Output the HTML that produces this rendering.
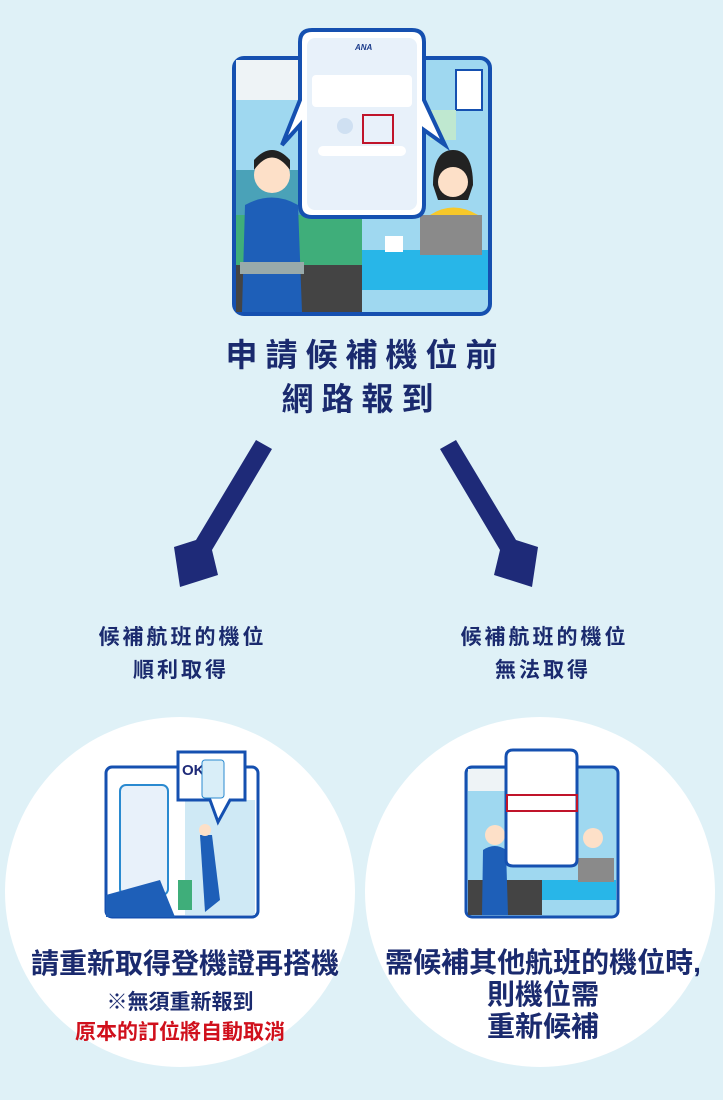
<!DOCTYPE html>
<html><head><meta charset="utf-8"><style>
html,body{margin:0;padding:0}
body{width:723px;height:1100px;background:#dff1f7;position:relative;overflow:hidden;font-family:"Liberation Sans","Noto Sans CJK TC",sans-serif;color:#1a2a6e;font-weight:bold}
.t{position:absolute;text-align:center;white-space:nowrap}
.circ{position:absolute;background:#fff;border-radius:50%}
</style></head><body>

<svg style="position:absolute;left:0;top:0" width="723" height="330">
  <rect x="234" y="58" width="256" height="256" rx="10" fill="#9fd8f0" stroke="#1550b0" stroke-width="4"/>
  <rect x="236" y="60" width="126" height="40" fill="#eef3f6"/>
  <rect x="236" y="170" width="126" height="70" fill="#4aa2b8"/>
  <rect x="236" y="215" width="126" height="50" fill="#3fae7a"/>
  <rect x="236" y="265" width="126" height="47" fill="#444"/>
  <rect x="362" y="250" width="126" height="40" fill="#28b6e8"/>
  <rect x="456" y="70" width="26" height="40" fill="#fff" stroke="#1550b0" stroke-width="2"/>
  <rect x="430" y="110" width="26" height="30" fill="#bfe8d0"/>
  <circle cx="272" cy="175" r="18" fill="#fde0c8"/>
  <path d="M254 170 Q272 145 290 170 L290 160 Q272 140 254 160Z" fill="#222"/>
  <path d="M245 205 Q272 190 298 205 L302 312 L242 312Z" fill="#1e5fb8"/>
  <rect x="240" y="262" width="64" height="12" fill="#9aa"/>
  <path d="M433 185 Q433 150 453 150 Q473 150 473 185 L468 200 L438 200Z" fill="#222"/>
  <circle cx="453" cy="182" r="15" fill="#fde0c8"/>
  <path d="M430 215 Q453 200 478 215 L480 255 L428 255Z" fill="#f7c82a"/>
  <rect x="420" y="215" width="62" height="40" fill="#8a8a8a"/>
  <rect x="385" y="236" width="18" height="16" fill="#fff"/>
  <path d="M312 30 H412 Q424 30 424 42 V100 L445 145 L424 130 V205 Q424 217 412 217 H312 Q300 217 300 205 V125 L282 145 L300 100 V42 Q300 30 312 30Z" fill="#fff" stroke="#1550b0" stroke-width="4"/>
  <rect x="307" y="38" width="110" height="172" rx="8" fill="#e8f1fa"/>
  <rect x="312" y="75" width="100" height="32" rx="4" fill="#fff"/>
  <rect x="363" y="115" width="30" height="28" fill="none" stroke="#c0142a" stroke-width="2"/>
  <circle cx="345" cy="126" r="8" fill="#cfe0f2"/>
  <rect x="318" y="146" width="88" height="10" rx="5" fill="#fff"/>
  <text x="355" y="50" font-size="8" fill="#1a3a8a" font-style="italic">ANA</text>
</svg>

<div class="t" style="left:0;width:723px;top:333px;font-size:32px;line-height:44px;letter-spacing:8px;text-indent:8px">申請候補機位前<br>網路報到</div>

<svg style="position:absolute;left:0;top:0" width="723" height="600">
  <polygon points="272,449 256,440 196,540 174,547 180,587 218,575 212,550" fill="#1e2a78"/>
  <polygon points="440,449 456,440 516,540 538,547 532,587 494,575 500,550" fill="#1e2a78"/>
</svg>

<div class="t" style="left:81px;width:200px;top:621px;font-size:21px;line-height:33px;letter-spacing:3px;text-indent:3px">候補航班的機位<br>順利取得</div>
<div class="t" style="left:443px;width:200px;top:621px;font-size:21px;line-height:33px;letter-spacing:3px;text-indent:3px">候補航班的機位<br>無法取得</div>

<div class="circ" style="left:5px;top:717px;width:350px;height:350px"></div>
<div class="circ" style="left:365px;top:717px;width:350px;height:350px"></div>

<svg style="position:absolute;left:0;top:0" width="723" height="930">
  <rect x="106" y="767" width="152" height="150" rx="6" fill="#fff" stroke="#1550b0" stroke-width="3"/>
  <rect x="185" y="800" width="70" height="115" fill="#cfe9f5"/>
  <rect x="120" y="785" width="48" height="110" rx="6" fill="#e8f1fa" stroke="#2a8ad0" stroke-width="2"/>
  <path d="M106 895 L160 880 L175 917 L106 917Z" fill="#1e5fb8"/>
  <path d="M178 752 H245 V800 L230 800 L218 822 L210 800 H178Z" fill="#fff" stroke="#1550b0" stroke-width="3"/>
  <text x="182" y="775" font-size="15" fill="#1e2a78" font-weight="bold">OK</text>
  <rect x="202" y="760" width="22" height="38" rx="3" fill="#d9eef8" stroke="#2a8ad0"/>
  <path d="M200 835 L212 835 L220 900 L205 912Z" fill="#1e5fb8"/>
  <circle cx="205" cy="830" r="6" fill="#fde0c8"/>
  <rect x="178" y="880" width="14" height="30" fill="#3fae7a"/>
  <rect x="466" y="767" width="152" height="150" rx="6" fill="#9fd8f0" stroke="#1550b0" stroke-width="3"/>
  <rect x="468" y="769" width="74" height="22" fill="#eef3f6"/>
  <rect x="468" y="880" width="74" height="35" fill="#444"/>
  <rect x="542" y="880" width="74" height="20" fill="#28b6e8"/>
  <path d="M483 850 Q495 842 506 850 L508 915 L482 915Z" fill="#1e5fb8"/>
  <circle cx="495" cy="835" r="10" fill="#fde0c8"/>
  <circle cx="593" cy="838" r="10" fill="#fde0c8"/>
  <rect x="578" y="858" width="36" height="24" fill="#8a8a8a"/>
  <path d="M513 750 H570 Q577 750 577 757 V860 Q577 866 570 866 H513 Q506 866 506 860 V757 Q506 750 513 750Z" fill="#fff" stroke="#1550b0" stroke-width="3"/>
  <rect x="507" y="795" width="70" height="16" fill="none" stroke="#c0142a" stroke-width="2"/>
</svg>

<div class="t" style="left:0;width:370px;top:945px;font-size:28px;line-height:38px">請重新取得登機證再搭機</div>
<div class="t" style="left:0;width:360px;top:988px;font-size:21px;line-height:30px">※無須重新報到</div>
<div class="t" style="left:0;width:360px;top:1018px;font-size:21px;line-height:30px;color:#d0101c">原本的訂位將自動取消</div>
<div class="t" style="left:363px;width:360px;top:947px;font-size:28px;line-height:32px">需候補其他航班的機位時,<br>則機位需<br>重新候補</div>

</body></html>
